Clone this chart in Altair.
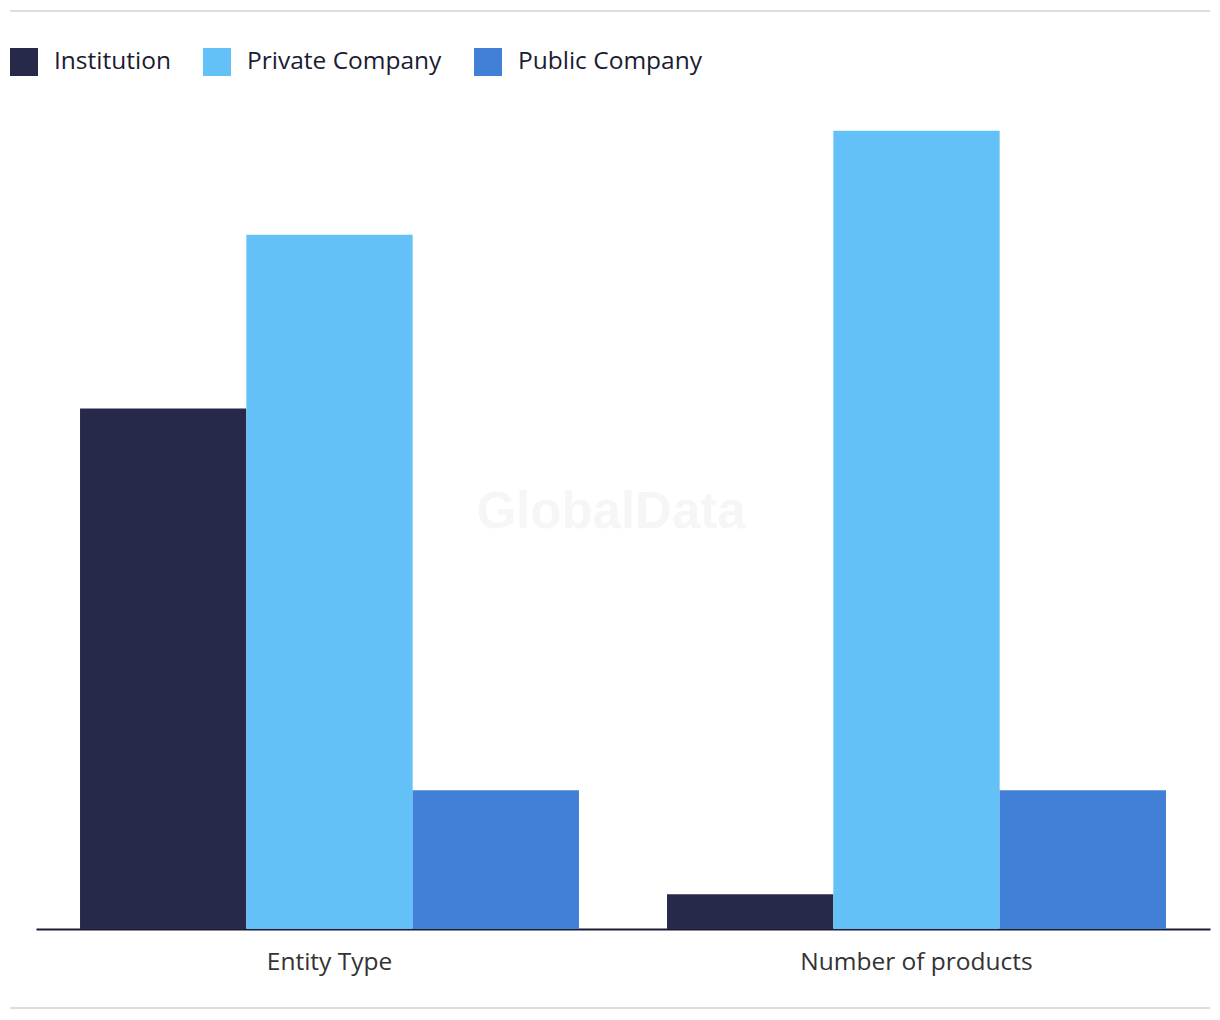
import altair as alt
import pandas as pd

categories = ["Entity Type", "Number of products"]
series = ["Institution", "Private Company", "Public Company"]
institution = [15, 1]
private_company = [20, 23]
public_company = [4, 4]
colors = ["#27294a", "#63c1f8", "#427fd6"]

rows = []
for i, c in enumerate(categories):
    rows.append({"category": c, "series": series[0], "value": institution[i]})
    rows.append({"category": c, "series": series[1], "value": private_company[i]})
    rows.append({"category": c, "series": series[2], "value": public_company[i]})
df = pd.DataFrame(rows)

FONT = "Open Sans"

bars = alt.Chart(df).mark_bar().encode(
    x=alt.X("category:N", sort=categories, title=None,
            scale=alt.Scale(paddingInner=0.15, paddingOuter=0.075),
            axis=alt.Axis(labelAngle=0, labelFont=FONT, labelFontSize=24.5, labelLimit=0,
                          labelColor="#333333", labelPadding=21, ticks=False,
                          domainColor="#1b1c33", domainWidth=2, grid=False)),
    xOffset=alt.XOffset("series:N", sort=series, scale=alt.Scale(paddingInner=0, paddingOuter=0)),
    y=alt.Y("value:Q", scale=alt.Scale(domain=[0, 24], nice=False), axis=None),
    color=alt.Color("series:N", sort=series,
                    scale=alt.Scale(domain=series, range=colors),
                    legend=alt.Legend(title=None, orient="none", legendX=-26, legendY=-48,
                                      direction="horizontal", symbolType="square",
                                      symbolSize=784, symbolStrokeWidth=0, symbolOpacity=1,
                                      labelFont=FONT, labelFontSize=24.5, labelColor="#1b1c33",
                                      labelLimit=0, labelOffset=16, columnPadding=32)),
)

watermark = alt.Chart(pd.DataFrame({"t": ["GlobalData"]})).mark_text(
    font="Liberation Sans", fontWeight="bold", fontSize=51, color="#f6f6f6",
    align="center", baseline="middle"
).encode(text="t:N", x=alt.value(575), y=alt.value(417))

top_line = alt.Chart(pd.DataFrame({"a": [0]})).mark_rule(color="#dddddd", strokeWidth=2).encode(
    x=alt.value(-26), x2=alt.value(1174), y=alt.value(-85))
bottom_line = alt.Chart(pd.DataFrame({"a": [0]})).mark_rule(color="#dddddd", strokeWidth=2).encode(
    x=alt.value(-26), x2=alt.value(1174), y=alt.value(912))

chart = alt.layer(watermark, bars, top_line, bottom_line).properties(
    width=1174, height=833,
    autosize=alt.AutoSizeParams(type="none"),
    padding={"left": 28, "top": 88, "right": 2, "bottom": 100},
).configure_view(stroke=None)

chart.save("out.html", embed_options={"renderer": "svg", "actions": False})
